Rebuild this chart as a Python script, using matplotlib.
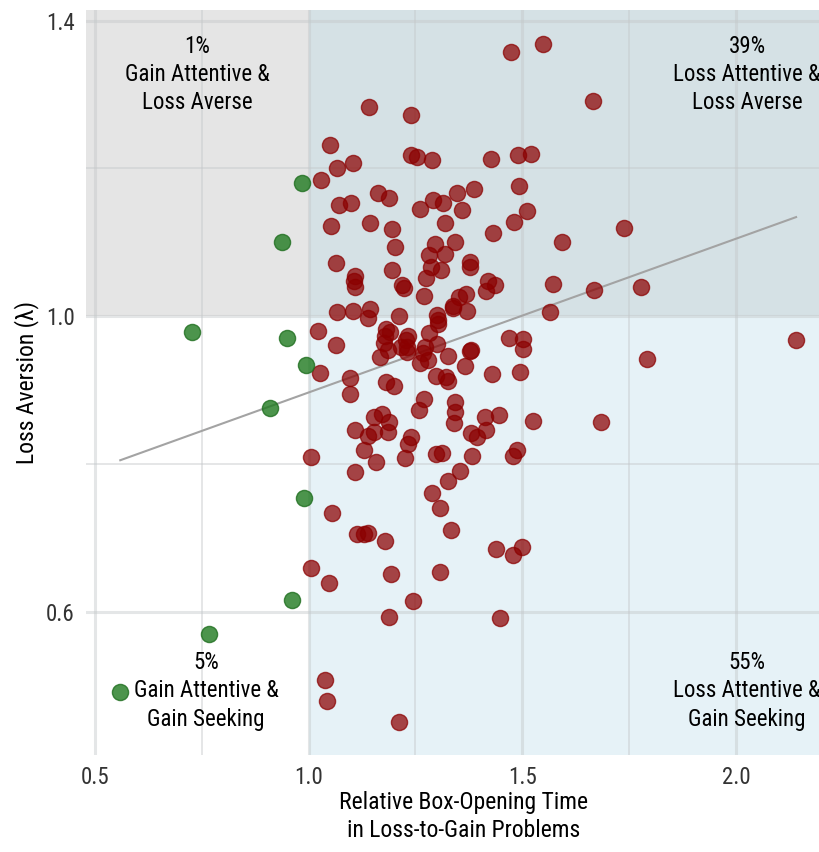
import numpy as np
from matplotlib import pyplot as plt
from matplotlib import font_manager as fm

# narrow sans if one is installed, else condensed DejaVu
fonts = fm.fontManager.ttflist
names = set(f.name for f in fonts)
stretch = 'normal'
family = 'DejaVu Sans'
for nm in ['Liberation Sans Narrow', 'Roboto Condensed', 'Open Sans Condensed', 'Arial Narrow']:
    if nm in names:
        family = nm
        break
else:
    cond = [f for f in fonts if 'condensed' in str(f.stretch) or 'Condensed' in f.fname]
    cond_dv = [f for f in cond if f.name == 'DejaVu Sans' and f.weight in (400, 'normal') and f.style == 'normal']
    if cond_dv:
        family = 'DejaVu Sans'
        stretch = 'condensed'
    elif cond:
        family = cond[0].name
        stretch = cond[0].stretch
plt.rcParams['font.family'] = [family, 'DejaVu Sans']
plt.rcParams['font.stretch'] = stretch

# green points: gain attentive (x < 1)
gain_x = [0.984, 0.938, 0.727, 0.949, 0.994, 0.910, 0.989, 0.961, 0.767, 0.559]
gain_y = [1.180, 1.101, 0.978, 0.970, 0.934, 0.876, 0.754, 0.616, 0.570, 0.491]

# red points: loss attentive (x > 1)
loss_x = [1.474, 1.548, 1.141, 1.240, 1.665, 1.050, 1.240, 1.254, 1.289, 1.427,
          1.490, 1.520, 1.066, 1.104, 1.029, 1.492, 1.162, 1.188, 1.347, 1.387,
          1.071, 1.099, 1.261, 1.291, 1.314, 1.359, 1.511, 1.481, 1.052, 1.144,
          1.195, 1.319, 1.431, 1.593, 1.202, 1.296, 1.343, 1.282, 1.319, 1.064,
          1.378, 1.378, 1.286, 1.310, 1.195, 1.108, 1.106, 1.108, 1.275, 1.420,
          1.436, 1.415, 1.572, 1.218, 1.223, 1.270, 1.352, 1.368, 1.338, 1.338,
          1.371, 1.565, 1.066, 1.104, 1.144, 1.139, 1.211, 1.300, 1.303, 1.303,
          1.738, 1.668, 1.778,
          1.022, 1.064, 1.181, 1.190, 1.179, 1.176, 1.186, 1.167, 1.233, 1.228,
          1.216, 1.230, 1.230, 1.282, 1.300, 1.272, 1.268, 1.279, 1.261, 1.326,
          1.366, 1.378, 1.380, 1.469, 1.502, 1.502, 1.495, 1.429, 1.027, 1.097,
          1.097, 1.181, 1.200, 1.298, 1.321, 1.326, 1.270, 1.258, 1.343, 1.343,
          1.340, 1.413, 1.445, 1.525, 1.153, 1.172, 1.188, 1.186, 1.108, 1.139,
          1.153, 1.130, 1.158, 1.240, 1.233, 1.225, 1.298, 1.312, 1.380, 1.394,
          1.415, 1.382, 1.488, 1.478, 1.006, 1.108, 1.354, 1.326, 1.289, 1.307,
          1.333, 1.055, 1.113, 1.130, 1.139, 1.179, 1.438, 1.478, 1.499, 1.006,
          1.048, 1.193, 1.307, 1.244, 1.188, 1.448, 1.038, 1.043, 1.211, 1.792,
          1.684, 2.141]
loss_y = [1.357, 1.368, 1.283, 1.272, 1.291, 1.231, 1.218, 1.215, 1.211, 1.212,
          1.218, 1.219, 1.200, 1.207, 1.184, 1.176, 1.166, 1.160, 1.166, 1.172,
          1.150, 1.153, 1.145, 1.157, 1.153, 1.143, 1.142, 1.127, 1.122, 1.126,
          1.118, 1.126, 1.112, 1.100, 1.093, 1.097, 1.100, 1.083, 1.084, 1.072,
          1.073, 1.066, 1.066, 1.062, 1.062, 1.054, 1.047, 1.039, 1.051, 1.047,
          1.042, 1.034, 1.043, 1.042, 1.038, 1.027, 1.026, 1.030, 1.014, 1.011,
          1.007, 1.005, 1.005, 1.007, 1.009, 0.997, 1.000, 1.001, 0.995, 0.989,
          1.119, 1.035, 1.039,
          0.980, 0.961, 0.982, 0.978, 0.973, 0.963, 0.954, 0.945, 0.973, 0.968,
          0.958, 0.958, 0.951, 0.977, 0.962, 0.958, 0.950, 0.940, 0.936, 0.946,
          0.932, 0.953, 0.954, 0.970, 0.969, 0.955, 0.924, 0.922, 0.923, 0.916,
          0.894, 0.911, 0.905, 0.919, 0.917, 0.912, 0.888, 0.873, 0.884, 0.870,
          0.855, 0.863, 0.866, 0.858, 0.863, 0.867, 0.857, 0.843, 0.846, 0.838,
          0.843, 0.819, 0.802, 0.836, 0.827, 0.808, 0.813, 0.815, 0.842, 0.836,
          0.846, 0.811, 0.819, 0.811, 0.809, 0.789, 0.790, 0.777, 0.760, 0.740,
          0.710, 0.733, 0.705, 0.705, 0.706, 0.696, 0.685, 0.677, 0.687, 0.659,
          0.639, 0.651, 0.654, 0.614, 0.593, 0.591, 0.507, 0.479, 0.451, 0.942,
          0.857, 0.968]

# fitted regression line (intercept, slope)
fit_b0 = 0.6887
fit_b1 = 0.2080

x_ticks = [0.5, 1.0, 1.5, 2.0]
y_ticks = [0.6, 1.0, 1.4]
x_minor = [0.75, 1.25, 1.75]
y_minor = [0.8, 1.2]

quad_labels = ['1%\nGain Attentive &\nLoss Averse',
               '39%\nLoss Attentive &\nLoss Averse',
               '5%\nGain Attentive &\nGain Seeking',
               '55%\nLoss Attentive &\nGain Seeking']

xlim = (0.479, 2.197)
ylim = (0.406, 1.414)

fig = plt.figure(figsize=(8.2, 8.52), dpi=100)
ax = fig.add_axes([0.105, 0.1138, 0.895, 0.8742])
ax.set_xlim(xlim)
ax.set_ylim(ylim)
ax.set_facecolor('white')

# quadrant backgrounds
ax.fill_between([xlim[0], 1.0], 1.0, ylim[1], color='#e5e5e5', lw=0, zorder=0)
ax.fill_between([1.0, xlim[1]], 1.0, ylim[1], color='#d5e1e5', lw=0, zorder=0)
ax.fill_between([1.0, xlim[1]], ylim[0], 1.0, color='#e6f2f7', lw=0, zorder=0)

# grid
for v in x_ticks:
    ax.axvline(v, color='#c4c8ca', alpha=0.45, lw=2.2, zorder=1)
for v in y_ticks:
    ax.axhline(v, color='#c4c8ca', alpha=0.45, lw=2.2, zorder=1)
for v in x_minor:
    ax.axvline(v, color='#c4c8ca', alpha=0.45, lw=1.4, zorder=1)
for v in y_minor:
    ax.axhline(v, color='#c4c8ca', alpha=0.45, lw=1.4, zorder=1)

# regression line over data range
all_x = np.array(gain_x + loss_x)
lx = np.array([all_x.min(), all_x.max()])
ax.plot(lx, fit_b0 + fit_b1 * lx, color='#a3a3a3', lw=1.5, zorder=2)

ax.scatter(loss_x, loss_y, s=135, color='#8b0000', alpha=0.72,
           edgecolors='#8b0000', linewidths=1.0, zorder=3)
ax.scatter(gain_x, gain_y, s=135, color='#1f7a1f', alpha=0.8,
           edgecolors='#1f6e1f', linewidths=1.0, zorder=3)

# quadrant labels
fs = 16.5
ls = 1.3
ax.text(0.739, 1.327, quad_labels[0], ha='center', va='center', fontsize=fs, linespacing=ls, zorder=4)
ax.text(2.026, 1.327, quad_labels[1], ha='center', va='center', fontsize=fs, linespacing=ls, zorder=4)
ax.text(0.760, 0.493, quad_labels[2], ha='center', va='center', fontsize=fs, linespacing=ls, zorder=4)
ax.text(2.026, 0.493, quad_labels[3], ha='center', va='center', fontsize=fs, linespacing=ls, zorder=4)

ax.set_xticks(x_ticks)
ax.set_xticklabels(['%.1f' % v for v in x_ticks])
ax.set_yticks(y_ticks)
ax.set_yticklabels(['%.1f' % v for v in y_ticks])
ax.tick_params(length=0, labelsize=16.5, labelcolor='#333333', pad=8)
for s in ax.spines.values():
    s.set_visible(False)

ax.set_xlabel('Relative Box-Opening Time\nin Loss-to-Gain Problems', fontsize=17, linespacing=1.3)
ax.xaxis.set_label_coords(0.514, -0.048, transform=ax.transAxes)
ax.xaxis.label.set_va('top')
ax.set_ylabel('Loss Aversion (λ)', fontsize=17)
ax.yaxis.set_label_coords(-0.064, 0.5)

plt.savefig('out.png', dpi=100)
